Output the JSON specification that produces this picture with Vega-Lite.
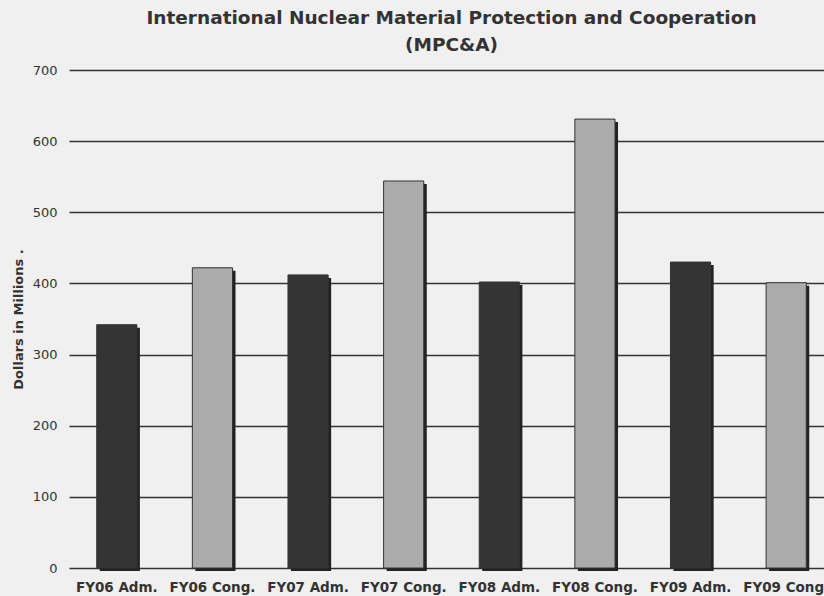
{
  "$schema": "https://vega.github.io/schema/vega-lite/v6.json",
  "width": 765,
  "height": 498,
  "autosize": {"type": "none"},
  "padding": {"left": 69, "top": 70, "right": 0, "bottom": 28},
  "background": "#f0f0f0",
  "title": {
    "text": ["International Nuclear Material Protection and Cooperation", "(MPC&A)"],
    "font": "DejaVu Sans",
    "fontSize": 18.5,
    "fontWeight": "bold",
    "color": "#333333",
    "anchor": "middle",
    "lineHeight": 27,
    "offset": 10
  },
  "data": {
    "values": [
      {"label": "FY06 Adm.", "type": "Adm", "value": 342},
      {"label": "FY06 Cong.", "type": "Cong", "value": 422},
      {"label": "FY07 Adm.", "type": "Adm", "value": 412},
      {"label": "FY07 Cong.", "type": "Cong", "value": 544},
      {"label": "FY08 Adm.", "type": "Adm", "value": 402},
      {"label": "FY08 Cong.", "type": "Cong", "value": 631},
      {"label": "FY09 Adm.", "type": "Adm", "value": 430},
      {"label": "FY09 Cong.", "type": "Cong", "value": 401}
    ]
  },
  "encoding": {
    "x": {
      "field": "label",
      "type": "nominal",
      "sort": null,
      "scale": {"paddingInner": 0.58, "paddingOuter": 0.29},
      "axis": {
        "title": null,
        "labelAngle": 0,
        "labelFont": "DejaVu Sans",
        "labelFontWeight": "bold",
        "labelFontSize": 13.5,
        "labelColor": "#333333",
        "labelPadding": 12,
        "labelOverlap": false,
        "ticks": false,
        "domain": false
      }
    },
    "y": {
      "field": "value",
      "type": "quantitative",
      "scale": {"domain": [0, 700], "nice": false},
      "axis": {
        "title": "Dollars in Millions .",
        "titleFont": "DejaVu Sans",
        "titleFontWeight": "bold",
        "titleFontSize": 13,
        "titleColor": "#333333",
        "titlePadding": 7,
        "values": [0, 100, 200, 300, 400, 500, 600, 700],
        "labelFont": "DejaVu Sans",
        "labelFontSize": 13,
        "labelColor": "#333333",
        "labelPadding": 12,
        "ticks": false,
        "domain": false,
        "grid": true,
        "gridColor": "#333333",
        "gridWidth": 1.5,
        "gridOpacity": 1
      }
    }
  },
  "layer": [
    {
      "mark": {"type": "bar", "color": "#222222", "xOffset": 3, "yOffset": 3}
    },
    {
      "mark": {"type": "bar", "stroke": "#333333", "strokeWidth": 1},
      "encoding": {
        "color": {
          "field": "type",
          "type": "nominal",
          "scale": {"domain": ["Adm", "Cong"], "range": ["#343434", "#ababab"]},
          "legend": null
        }
      }
    }
  ],
  "config": {"view": {"stroke": null}}
}
